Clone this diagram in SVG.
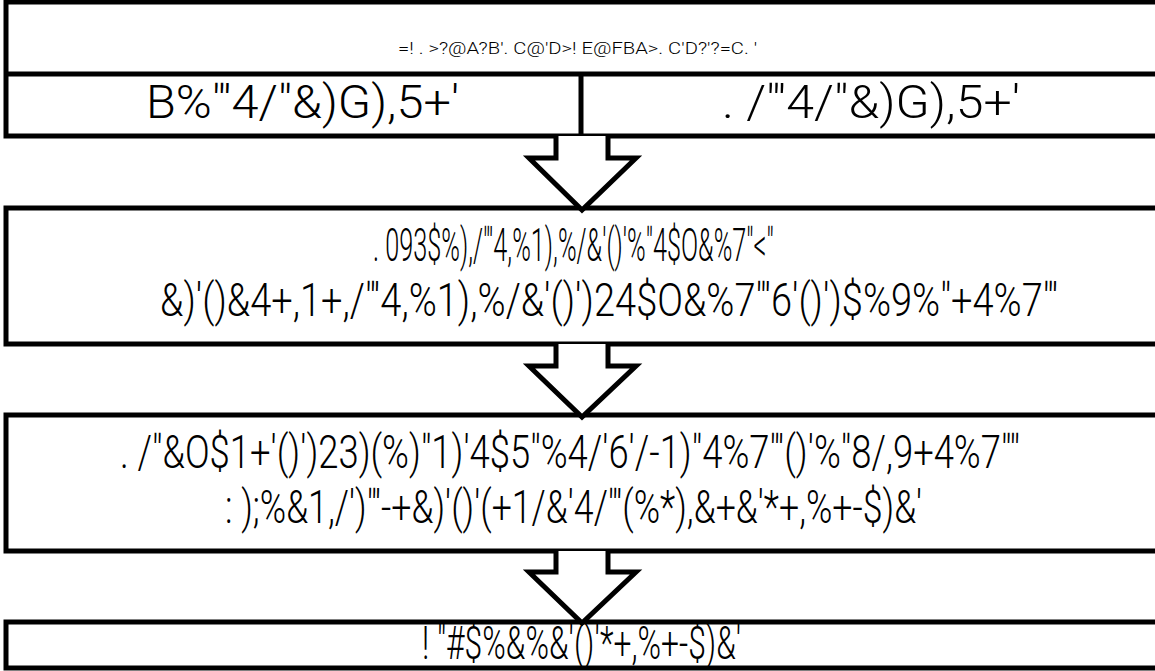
<svg xmlns="http://www.w3.org/2000/svg" width="1155" height="671" viewBox="0 0 1155 671">
<style>
.box{fill:#fff;stroke:#000;stroke-width:5}
.ln{fill:none;stroke:#000;stroke-width:5}
.arr{fill:#fff;stroke:#000;stroke-width:5;stroke-linejoin:miter}
.t{font-family:Roboto,"Liberation Sans",Arial,sans-serif;font-weight:300;fill:#000}
.big{font-size:47px}
.sm{font-size:16px}
</style>
<rect width="1155" height="671" fill="#fff"/>
<g id="header">
<rect class="box" x="6" y="2" width="1156" height="134"/>
<line class="ln" x1="6" y1="74" x2="1162" y2="74"/>
<line class="ln" x1="581" y1="74" x2="581" y2="136"/>
<text class="t sm" transform="translate(398,54) scale(0.8,1)" textLength="449" lengthAdjust="spacingAndGlyphs">=! . &gt;?@A?B'. C@'D&gt;! E@FBA&gt;. C'D?'?=C. '</text>
</g>
<g id="cell-left">
<text class="t big" transform="translate(146,118) scale(0.6,1)" textLength="522" lengthAdjust="spacingAndGlyphs">B%"'4/"&amp;)G),5+'</text>
</g>
<g id="cell-right">
<text class="t big" transform="translate(722,118) scale(0.6,1)" textLength="497" lengthAdjust="spacingAndGlyphs">. /"'4/"&amp;)G),5+'</text>
</g>
<g id="box2">
<rect class="box" x="6" y="208" width="1156" height="136"/>
<text class="t big" transform="translate(373,261) scale(0.6,1)" textLength="668" lengthAdjust="spacingAndGlyphs">. 093$%),/"'4,%1),%/&amp;'()'%"4$O&amp;%7"&lt;"</text>
<text class="t big" transform="translate(160,316) scale(0.6,1)" textLength="1497" lengthAdjust="spacingAndGlyphs">&amp;)'()&amp;4+,1+,/"'4,%1),%/&amp;'()')24$O&amp;%7"'6'()')$%9%"+4%7"'</text>
</g>
<g id="box3">
<rect class="box" x="6" y="415" width="1156" height="136"/>
<text class="t big" transform="translate(120,468) scale(0.6,1)" textLength="1500" lengthAdjust="spacingAndGlyphs">. /"&amp;O$1+'()')23)(%)"1)'4$5"%4/'6'/-1)"4%7"'()'%"8/,9+4%7""</text>
<text class="t big" transform="translate(225,523) scale(0.6,1)" textLength="1162" lengthAdjust="spacingAndGlyphs">: );%&amp;1,/')"'-+&amp;)'()'(+1/&amp;'4/"'(%*),&amp;+&amp;'*+,%+-$)&amp;'</text>
</g>
<g id="box4">
<rect class="box" x="6" y="622" width="1156" height="46"/>
<text class="t big" transform="translate(422,659) scale(0.6,1)" textLength="532" lengthAdjust="spacingAndGlyphs">! "#$%&amp;%&amp;'()'*+,%+-$)&amp;'</text>
</g>
<g id="connectors">
<polyline class="arr" points="556,136 556,158 529,158 582,210 636,158 608,158 608,136"/>
<polyline class="arr" points="556,344 556,366 529,366 582,417 636,366 608,366 608,344"/>
<polyline class="arr" points="556,551 556,572 529,572 582,623 636,572 608,572 608,551"/>
</g>
</svg>
